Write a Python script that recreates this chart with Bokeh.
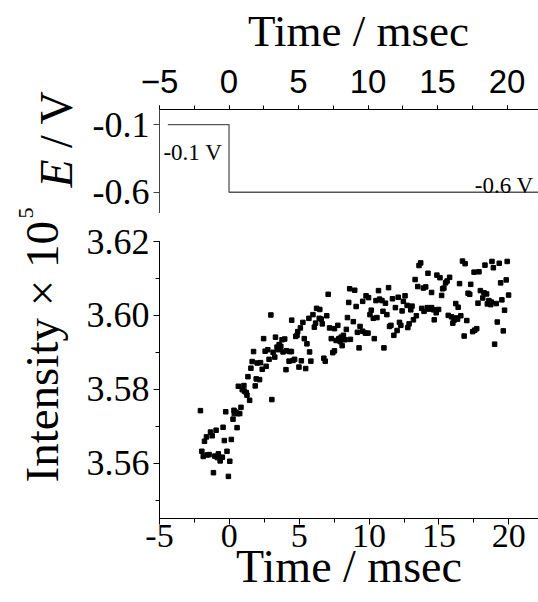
import math
from bokeh.plotting import figure
from bokeh.models import Range1d, SingleIntervalTicker, FixedTicker, Label, PrintfTickFormatter
from bokeh.layouts import column, row
from bokeh.core.properties import value
from bokeh.embed import file_html
from bokeh.resources import INLINE

# ---------------- data ----------------
# potential step (upper panel)
step_t = [-4.4, 0.0, 0.0, 22.3]
step_e = [-0.1, -0.1, -0.6, -0.6]
step_labels = ["-0.1 V", "-0.6 V"]

# intensity transient (lower panel), time in msec, intensity x 10^5
time_a = [2.97, 2.45, 3.30, 1.73, 2.56, 2.75, 3.13, 3.25, 2.84, 1.63, 1.99, 2.23, 2.63, 2.35, 1.54,
          1.33, 1.92, 2.16, 0.64, 1.04, 0.92, 1.07, 1.21, 1.26, 1.85, 1.45, 3.04, 0.83, 0.33, 0.47,
          0.35, 0.60, 0.74, -0.26, -2.07, 0.26, -0.45, 0.55, -0.95, -1.35, -1.23, -1.64, -1.78, -0.36,
          0.14, -1.97, -1.87, -1.59, -1.45, -1.04, -0.79, -0.86, -0.66, -0.50, -0.66, -0.17, 0.03,
          -1.14, -0.07]
int_a = [3.6001, 3.5937, 3.5941, 3.5902, 3.5903, 3.5907, 3.5900, 3.5887, 3.5881, 3.5875, 3.5871,
         3.5872, 3.5862, 3.5854, 3.5857, 3.5834, 3.5828, 3.5826, 3.5808, 3.5810, 3.5799, 3.5795,
         3.5791, 3.5784, 3.5809, 3.5770, 3.5772, 3.5751, 3.5743, 3.5738, 3.5734, 3.5734, 3.5734,
         3.5739, 3.5742, 3.5719, 3.5697, 3.5696, 3.5689, 3.5684, 3.5674, 3.5671, 3.5659, 3.5661,
         3.5664, 3.5632, 3.5618, 3.5622, 3.5623, 3.5619, 3.5625, 3.5615, 3.5615, 3.5616, 3.5606,
         3.5632, 3.5605, 3.5574, 3.5564]

time_b = [8.61, 7.07, 8.54, 6.24, 6.47, 5.98, 5.69, 6.43, 6.57, 6.97, 8.45, 4.46, 5.26, 6.17, 6.65,
          5.08, 6.08, 7.17, 7.52, 7.76, 8.37, 4.89, 4.84, 4.75, 5.36, 3.96, 3.77, 7.29, 7.64, 7.83,
          8.00, 8.16, 8.28, 8.66, 7.93, 8.07, 5.55, 3.56, 3.68, 3.41, 3.51, 3.84, 4.08, 4.32, 4.44,
          5.74, 7.40, 7.52, 4.27, 4.55, 4.67, 5.15, 5.83, 6.76, 6.86, 4.98, 5.46, 4.05]
int_b = [3.6072, 3.6057, 3.6035, 3.6019, 3.6016, 3.6002, 3.5992, 3.5992, 3.5990, 3.5999, 3.5994,
         3.5987, 3.5981, 3.5979, 3.5977, 3.5966, 3.5968, 3.5966, 3.5964, 3.5973, 3.5962, 3.5956,
         3.5946, 3.5943, 3.5937, 3.5936, 3.5934, 3.5937, 3.5932, 3.5937, 3.5941, 3.5946, 3.5934,
         3.5935, 3.5929, 3.5918, 3.5923, 3.5921, 3.5916, 3.5914, 3.5907, 3.5901, 3.5904, 3.5902,
         3.5902, 3.5901, 3.5899, 3.5904, 3.5876, 3.5878, 3.5881, 3.5877, 3.5876, 3.5884, 3.5876,
         3.5860, 3.5856, 3.5853]

time_c = [8.97, 9.78, 9.96, 10.67, 11.39, 13.29, 13.48, 13.69, 13.57, 14.21, 13.88, 14.05, 12.57,
          12.08, 11.67, 10.49, 10.75, 10.92, 11.17, 9.54, 12.45, 12.72, 9.07, 11.88, 13.07, 12.98,
          10.15, 10.99, 12.36, 13.76, 13.93, 14.16, 10.06, 11.27, 10.30, 10.56, 13.38, 8.87, 13.17,
          12.17, 12.27, 12.86, 11.56, 11.46, 12.77, 9.35, 12.00, 9.54, 9.73, 9.92, 9.16, 11.77,
          10.37, 9.28, 11.06]
int_c = [3.6068, 3.6053, 3.6048, 3.6067, 3.6075, 3.6097, 3.6078, 3.6142, 3.6135, 3.6114, 3.6074,
         3.6077, 3.6053, 3.6049, 3.6045, 3.6040, 3.6044, 3.6040, 3.6033, 3.6038, 3.6038, 3.6027,
         3.6024, 3.6021, 3.6025, 3.6015, 3.6014, 3.6011, 3.6012, 3.6019, 3.6011, 3.6021, 3.6002,
         3.6002, 3.5992, 3.5994, 3.5999, 3.5983, 3.5988, 3.5981, 3.5973, 3.5977, 3.5973, 3.5970,
         3.5967, 3.5970, 3.5959, 3.5957, 3.5952, 3.5952, 3.5954, 3.5946, 3.5937, 3.5912, 3.5912]

time_d = [16.68, 16.87, 18.29, 18.79, 18.89, 19.31, 19.88, 17.51, 17.86, 14.85, 15.07, 15.76, 15.58,
          15.47, 16.47, 17.27, 19.41, 19.81, 15.35, 15.26, 14.47, 15.19, 17.08, 17.20, 17.96, 18.22,
          18.41, 19.98, 18.13, 18.57, 18.74, 18.46, 18.70, 17.79, 19.10, 19.50, 16.20, 16.37, 14.28,
          14.47, 14.62, 14.97, 14.80, 19.69, 15.66, 15.90, 16.25, 16.33, 16.08, 15.99, 16.56, 16.99,
          14.66, 19.17, 17.41, 17.56, 17.70, 19.60, 16.80, 18.98]
int_d = [3.6147, 3.6140, 3.6136, 3.6146, 3.6129, 3.6141, 3.6146, 3.6117, 3.6118, 3.6109, 3.6102,
         3.6103, 3.6093, 3.6088, 3.6086, 3.6084, 3.6088, 3.6096, 3.6074, 3.6072, 3.6062, 3.6054,
         3.6060, 3.6057, 3.6067, 3.6061, 3.6058, 3.6055, 3.6047, 3.6040, 3.6036, 3.6031, 3.6029,
         3.6033, 3.6032, 3.6042, 3.6032, 3.6022, 3.6017, 3.6021, 3.6015, 3.6016, 3.6007, 3.6014,
         3.6000, 3.5996, 3.5993, 3.5990, 3.5987, 3.5979, 3.5999, 3.5986, 3.5988, 3.5982, 3.5956,
         3.5960, 3.5964, 3.5958, 3.5944, 3.5922]

time_ms = time_a + time_b + time_c + time_d
intensity = int_a + int_b + int_c + int_d

x_tick_interval = 5
y_tick_interval = 0.02
e_ticks = [-0.6, -0.1]

SERIF = "Liberation Serif"
SANS = "Liberation Sans"

TOTAL_W = 538
TOTAL_H = 602
LAB_W = 83
MAIN_W = TOTAL_W - LAB_W
FRAME_LEFT = 157
TOP_H = 55
P1_H = 213 - TOP_H
P2_H = TOTAL_H - 213


def clean(p):
    p.outline_line_color = None
    p.grid.visible = False
    p.background_fill_color = "white"
    p.border_fill_color = "white"


# ---------------- left strip with rotated axis titles ----------------
lab = figure(width=LAB_W, height=TOTAL_H, x_range=Range1d(0, LAB_W), y_range=Range1d(0, TOTAL_H),
             x_axis_type=None, y_axis_type=None, output_backend="svg", toolbar_location=None,
             min_border_left=0, min_border_right=0, min_border_top=0, min_border_bottom=0)
clean(lab)
rot = math.pi / 2
lab.text(x=[41], y=[TOTAL_H - 482], text=["Intensity \u00d7 10"], angle=rot,
         text_font=value(SERIF), text_font_size=value("47px"), text_align="left",
         text_baseline="middle", text_color="black")
lab.text(x=[25], y=[TOTAL_H - 218], text=["5"], angle=rot,
         text_font=value(SERIF), text_font_size=value("22px"), text_align="left",
         text_baseline="middle", text_color="black")
lab.text(x=[56], y=[TOTAL_H - 187], text=["E"], angle=rot,
         text_font=value(SERIF), text_font_style=value("italic"), text_font_size=value("46px"),
         text_align="left", text_baseline="middle", text_color="black")
lab.text(x=[56], y=[TOTAL_H - 90], text=["/ V"], angle=rot,
         text_font=value(SERIF), text_font_size=value("46px"), text_align="right",
         text_baseline="middle", text_color="black")

# ---------------- top strip with the upper axis title ----------------
# its frame is aligned with the panels below, so use page x-coordinates for the range
top = figure(width=MAIN_W, height=TOP_H, x_range=Range1d(FRAME_LEFT, TOTAL_W), y_range=Range1d(0, TOP_H),
             x_axis_type=None, y_axis_type=None, output_backend="svg", toolbar_location=None,
             min_border_left=FRAME_LEFT - LAB_W, min_border_right=0, min_border_top=0,
             min_border_bottom=0)
clean(top)
top.text(x=[246], y=[TOP_H - 30], text=["Time / msec"],
         text_font=value(SERIF), text_font_size=value("45px"), text_align="left",
         text_baseline="middle", text_color="black")

# ---------------- upper panel: potential ----------------
p1 = figure(width=MAIN_W, height=P1_H, x_range=Range1d(-5, 22.26), y_range=Range1d(-0.757, 0.011),
            output_backend="svg", toolbar_location=None, x_axis_location="above",
            min_border_left=155 - LAB_W, min_border_top=109 - TOP_H, min_border_bottom=0,
            min_border_right=0)
clean(p1)

xa = p1.xaxis[0]
xa.ticker = SingleIntervalTicker(interval=x_tick_interval, num_minor_ticks=2)
xa.major_tick_out = 4
xa.major_tick_in = 0
xa.minor_tick_out = 4
xa.minor_tick_in = 0
xa.axis_line_color = "black"
xa.major_label_text_font = SANS
xa.major_label_text_font_size = "33px"
xa.major_label_text_color = "black"
xa.major_label_standoff = 13
xa.major_label_overrides = {-5: "\u22125"}

ya = p1.yaxis[0]
ya.ticker = FixedTicker(ticks=e_ticks, minor_ticks=[])
ya.formatter = PrintfTickFormatter(format="%.1f")
ya.major_tick_out = 6
ya.major_tick_in = 0
ya.minor_tick_out = 0
ya.axis_line_color = "#444444"
ya.major_tick_line_color = "#444444"
ya.major_label_text_font = SERIF
ya.major_label_text_font_size = "36px"
ya.major_label_text_color = "black"
ya.major_label_standoff = 4

p1.line(step_t, step_e, line_color="#555555", line_width=1.3)

p1.add_layout(Label(x=-4.72, y=-0.307, text=step_labels[0], text_font=SERIF, text_font_size="23px",
                    text_baseline="alphabetic", text_align="left", text_color="black"))
p1.add_layout(Label(x=21.9, y=-0.550, text=step_labels[1], text_font=SERIF, text_font_size="23px",
                    text_baseline="alphabetic", text_align="right", text_color="black"))

# ---------------- lower panel: intensity ----------------
p2 = figure(width=MAIN_W, height=P2_H, x_range=Range1d(-5, 22.12), y_range=Range1d(3.545, 3.62),
            output_backend="svg", toolbar_location=None,
            min_border_left=FRAME_LEFT - LAB_W, min_border_top=28, min_border_bottom=84,
            min_border_right=0)
clean(p2)

bx = p2.xaxis[0]
bx.ticker = SingleIntervalTicker(interval=x_tick_interval, num_minor_ticks=2)
bx.formatter = PrintfTickFormatter(format="%d")
bx.major_tick_out = 6
bx.major_tick_in = 0
bx.minor_tick_out = 4
bx.minor_tick_in = 0
bx.major_label_text_font = SERIF
bx.major_label_text_font_size = "34px"
bx.major_label_text_color = "black"
bx.major_label_standoff = 0
bx.axis_label = "Time / msec"
bx.axis_label_text_font = SERIF
bx.axis_label_text_font_size = "46px"
bx.axis_label_text_font_style = "normal"
bx.axis_label_text_color = "black"
bx.axis_label_standoff = -9

by = p2.yaxis[0]
by.ticker = SingleIntervalTicker(interval=y_tick_interval, num_minor_ticks=2)
by.formatter = PrintfTickFormatter(format="%.2f")
by.major_tick_out = 6
by.major_tick_in = 0
by.minor_tick_out = 4
by.minor_tick_in = 0
by.major_label_text_font = SERIF
by.major_label_text_font_size = "36px"
by.major_label_text_color = "black"
by.major_label_standoff = 4

p2.scatter(time_ms, intensity, marker="square", size=4.5, fill_color="black", line_color="black")

layout = row(lab, column(top, p1, p2, spacing=0), spacing=0)
open("out.html", "w").write(file_html(layout, INLINE))
